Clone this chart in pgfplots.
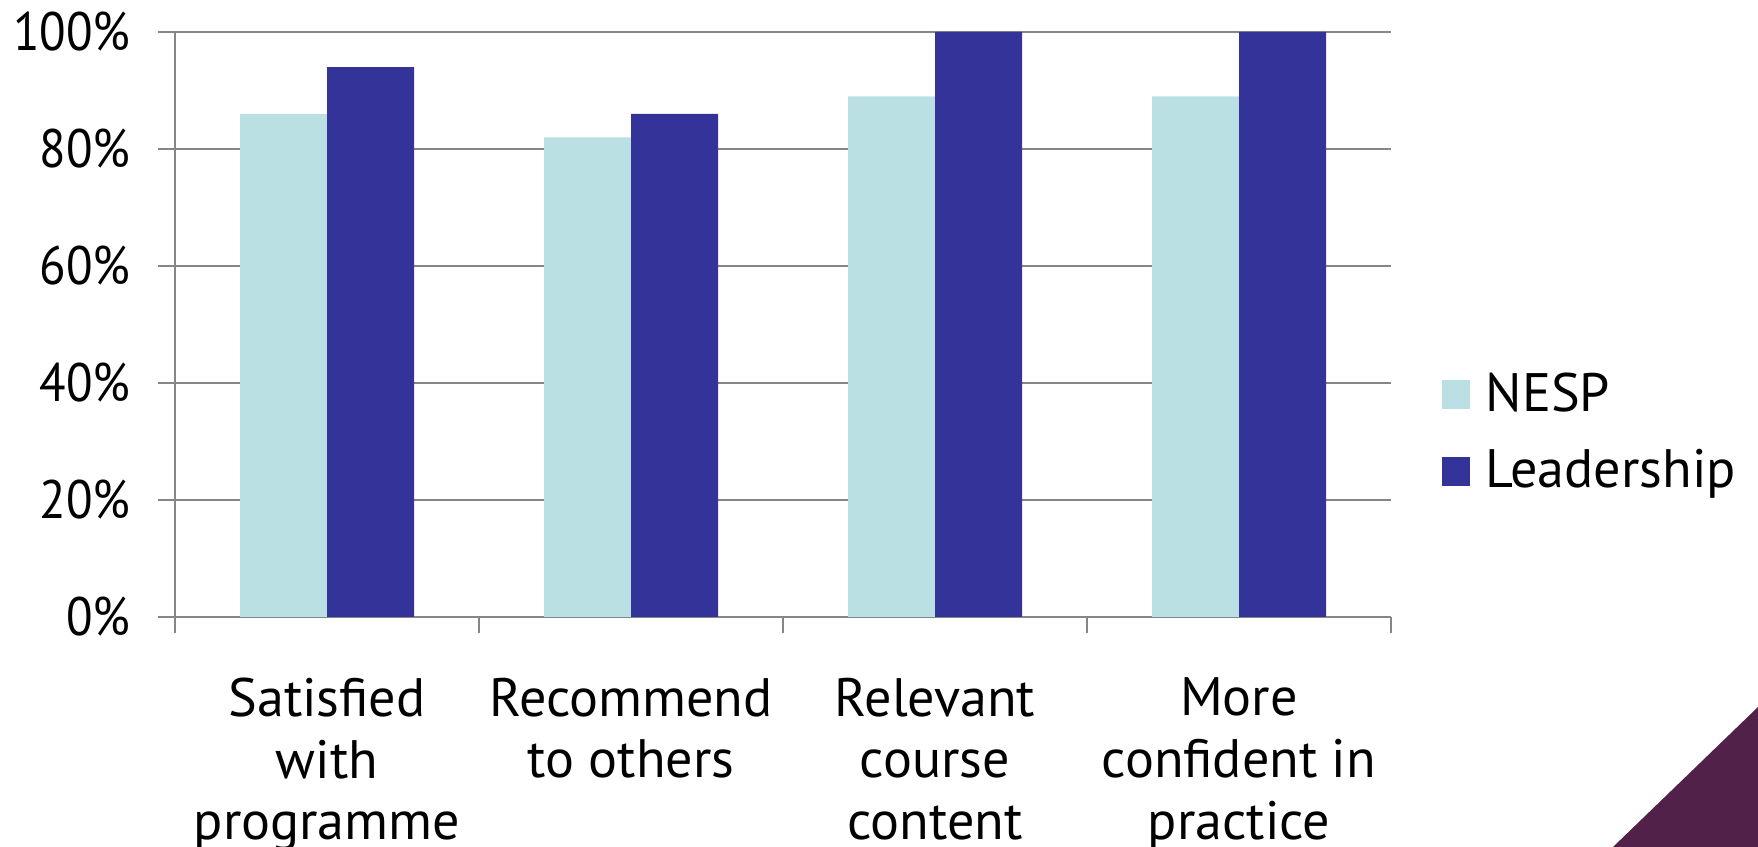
\documentclass[border=0pt]{standalone}
\usepackage{fontspec}
\setmainfont{PT Sans}
\usepackage{pgfplots}
\pgfplotsset{compat=1.18}
\definecolor{nesp}{HTML}{BBE0E3}
\definecolor{lead}{HTML}{343399}
\definecolor{gridgray}{HTML}{868686}
\definecolor{cornerplum}{HTML}{52214A}
\newcommand{\chartfont}{\fontsize{15.4}{17.6}\selectfont}

\begin{document}
\begin{tikzpicture}[x=1cm,y=1cm]
\useasboundingbox (0,0) rectangle (17.58,8.47);
% decorative corner wedge
\fill[cornerplum] (16.13,0) -- (17.58,0) -- (17.58,1.40) -- cycle;
\begin{axis}[
  at={(1.75cm,2.30cm)}, anchor=south west,
  scale only axis, width=12.16cm, height=5.85cm,
  ymin=0, ymax=100, xmin=-0.5, xmax=3.5,
  ybar=0pt, bar width=0.87cm,
  axis lines=left,
  axis line style={-, draw=gridgray, line width=0.75pt},
  ymajorgrids, grid style={draw=gridgray, line width=0.75pt},
  tick align=outside, major tick length=0.17cm,
  ytick={0,20,40,60,80,100},
  yticklabels={0\%,20\%,40\%,60\%,80\%,100\%},
  ytick style={draw=gridgray, line width=0.75pt},
  yticklabel style={font=\chartfont, inner sep=0pt, anchor=east, xscale=0.9, xshift=-0.3cm},
  xtick={0,1,2,3},
  xticklabels={{Satisfied\\with\\programme},{Recommend\\to others},{Relevant\\course\\content},{More\\confident in\\practice}},
  xtick style={draw=none},
  xticklabel style={font=\chartfont, align=center, inner sep=0pt, anchor=north, yshift=-0.43cm},
  extra x ticks={-0.5,0.5,1.5,2.5,3.5},
  extra x tick labels={},
  extra x tick style={xtick style={draw=gridgray, line width=0.75pt}, major tick length=0.16cm, grid=none},
  legend cell align=left,
  legend style={draw=none, fill=none, at={(1.0411,0.3145)}, anchor=west,
    inner sep=0pt, row sep=0.33cm, font=\chartfont,
    nodes={inner sep=0pt},
    /tikz/every odd column/.style={column sep=0.16cm}},
  legend image code/.code={\fill[#1] (0cm,-0.145cm) rectangle (0.28cm,0.145cm);},
]
\addplot[fill=nesp, draw=none] coordinates {(0,86) (1,82) (2,89) (3,89)};
\addplot[fill=lead, draw=none] coordinates {(0,94) (1,86) (2,100) (3,100)};
\legend{NESP, Leadership}
\end{axis}
\end{tikzpicture}
\end{document}
